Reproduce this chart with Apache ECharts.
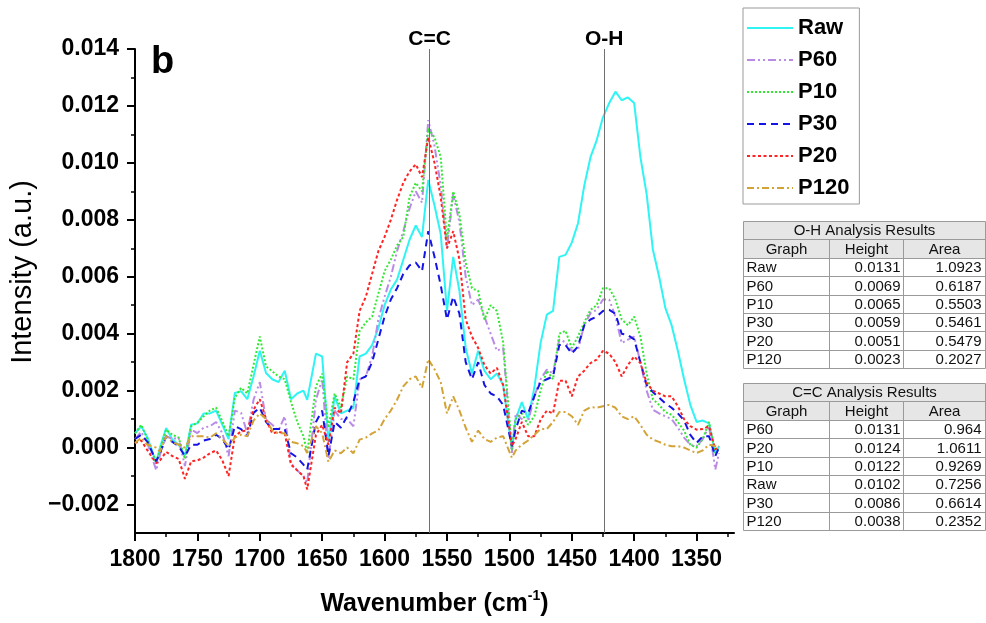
<!DOCTYPE html>
<html><head><meta charset="utf-8">
<script src="https://cdn.jsdelivr.net/npm/echarts@6/dist/echarts.min.js"></script>
<style>html,body{margin:0;padding:0;background:#fff}#c{width:986px;height:623px}</style>
</head><body><div id="c"></div>
<script>
// ---------- data ----------
const wavenumbers = [1800,1795,1790,1783,1780,1775,1770,1765,1760,1755,1750,1745,1740,1735,1730,1725,1720,1715,1710,1705,1700,1695,1690,1685,1680,1675,1670,1665,1662,1655,1650,1645,1640,1635,1630,1625,1620,1615,1610,1605,1600,1595,1590,1585,1580,1575,1570,1565,1560,1555,1550,1545,1540,1535,1530,1525,1520,1515,1510,1505,1498,1495,1490,1485,1480,1475,1470,1465,1460,1455,1450,1445,1440,1435,1430,1425,1420,1415,1410,1405,1400,1395,1390,1385,1380,1375,1370,1365,1360,1355,1350,1345,1340,1335,1332];

const raw = [0.00050,0.00075,0.00035,-0.00054,0.00000,0.00069,0.00028,0.00010,-0.00028,0.00080,
0.00085,0.00120,0.00120,0.00130,0.00080,0.00030,0.00192,0.00198,0.00170,0.00250,
0.00340,0.00262,0.00240,0.00230,0.00270,0.00170,0.00190,0.00200,0.00168,0.00330,
0.00320,0.00020,0.00180,0.00120,0.00130,0.00140,0.00320,0.00330,0.00360,0.00420,
0.00500,0.00555,0.00590,0.00660,0.00730,0.00780,0.00740,0.00940,0.00850,0.00750,
0.00480,0.00670,0.00550,0.00350,0.00260,0.00340,0.00270,0.00240,0.00260,0.00220,
-0.00007,0.00100,0.00160,0.00100,0.00210,0.00367,0.00467,0.00480,0.00670,0.00677,
0.00720,0.00788,0.00920,0.01020,0.01080,0.01160,0.01210,0.01250,0.01220,0.01230,
0.01210,0.01020,0.00890,0.00695,0.00600,0.00490,0.00430,0.00340,0.00240,0.00150,
0.00090,0.00095,0.00085,-0.00019,0.00005];

const p60 = [0.00030,0.00055,0.00015,-0.00080,-0.00025,0.00040,0.00030,0.00035,-0.00065,0.00063,
0.00051,0.00070,0.00075,0.00090,0.00050,-0.00030,0.00130,0.00122,0.00050,0.00168,
0.00230,0.00098,0.00080,0.00060,0.00110,-0.00055,-0.00080,-0.00100,-0.00124,0.00168,
0.00240,-0.00040,0.00130,0.00100,0.00100,0.00075,0.00239,0.00250,0.00320,0.00450,
0.00530,0.00600,0.00690,0.00760,0.00840,0.00900,0.00860,0.01150,0.01060,0.00920,
0.00700,0.00890,0.00790,0.00600,0.00500,0.00520,0.00460,0.00400,0.00340,0.00350,
-0.00019,0.00120,0.00100,0.00090,0.00180,0.00240,0.00274,0.00260,0.00380,0.00370,
0.00340,0.00344,0.00430,0.00472,0.00484,0.00520,0.00520,0.00460,0.00367,0.00379,
0.00390,0.00300,0.00200,0.00133,0.00120,0.00110,0.00100,0.00070,0.00035,0.00010,
0.00005,0.00030,0.00075,-0.00077,-0.00020];

const p10 = [0.00050,0.00080,0.00030,-0.00054,-0.00007,0.00063,0.00045,0.00035,-0.00040,0.00075,
0.00087,0.00110,0.00130,0.00140,0.00092,0.00040,0.00175,0.00210,0.00190,0.00290,
0.00390,0.00285,0.00268,0.00250,0.00240,0.00160,0.00090,0.00040,-0.00019,0.00215,
0.00260,0.00070,0.00190,0.00140,0.00250,0.00240,0.00410,0.00440,0.00460,0.00540,
0.00620,0.00660,0.00710,0.00740,0.00880,0.00930,0.00900,0.01120,0.01090,0.01020,
0.00730,0.00900,0.00820,0.00650,0.00560,0.00550,0.00450,0.00500,0.00480,0.00370,
-0.00007,0.00100,0.00120,0.00080,0.00110,0.00200,0.00270,0.00240,0.00400,0.00410,
0.00350,0.00390,0.00440,0.00484,0.00500,0.00560,0.00560,0.00520,0.00450,0.00430,
0.00460,0.00390,0.00260,0.00170,0.00150,0.00125,0.00115,0.00090,0.00060,0.00010,
0.00000,0.00030,0.00090,-0.00019,0.00000];

const p30 = [0.00030,0.00045,0.00020,-0.00048,-0.00020,0.00040,0.00020,0.00005,-0.00030,0.00010,
0.00010,0.00025,0.00030,0.00045,0.00030,-0.00007,0.00075,0.00065,0.00040,0.00122,
0.00140,0.00090,0.00065,0.00065,0.00065,-0.00020,-0.00035,-0.00060,-0.00077,0.00090,
0.00130,-0.00030,0.00090,0.00070,0.00110,0.00160,0.00240,0.00250,0.00300,0.00380,
0.00460,0.00520,0.00560,0.00610,0.00640,0.00650,0.00620,0.00760,0.00670,0.00570,
0.00450,0.00530,0.00470,0.00300,0.00240,0.00300,0.00220,0.00190,0.00180,0.00150,
0.00005,0.00063,0.00130,0.00120,0.00180,0.00230,0.00240,0.00250,0.00360,0.00360,
0.00330,0.00356,0.00430,0.00450,0.00460,0.00480,0.00484,0.00470,0.00400,0.00395,
0.00380,0.00300,0.00220,0.00195,0.00175,0.00155,0.00140,0.00120,0.00095,0.00045,
0.00016,0.00040,0.00040,-0.00030,0.00000];

const p20 = [0.00016,0.00025,-0.00010,-0.00055,-0.00045,-0.00015,-0.00030,-0.00040,-0.00110,-0.00048,
-0.00045,-0.00035,-0.00020,-0.00010,-0.00045,-0.00100,0.00040,0.00057,0.00060,0.00133,
0.00170,0.00100,0.00050,0.00055,0.00050,-0.00060,-0.00080,-0.00100,-0.00147,0.00045,
0.00080,0.00010,0.00140,0.00120,0.00300,0.00330,0.00480,0.00530,0.00610,0.00690,
0.00740,0.00800,0.00870,0.00930,0.00970,0.00995,0.00950,0.01090,0.01000,0.00880,
0.00700,0.00760,0.00660,0.00450,0.00390,0.00350,0.00290,0.00260,0.00280,0.00220,
0.00005,0.00030,0.00090,0.00040,0.00040,0.00098,0.00130,0.00120,0.00235,0.00235,
0.00180,0.00250,0.00270,0.00297,0.00309,0.00340,0.00330,0.00300,0.00250,0.00290,
0.00320,0.00297,0.00227,0.00200,0.00190,0.00180,0.00180,0.00145,0.00100,0.00075,
0.00063,0.00065,0.00075,-0.00007,0.00005];

const p120 = [0.00016,0.00035,0.00010,0.00000,-0.00015,0.00040,0.00020,0.00010,0.00000,0.00040,
0.00040,0.00040,0.00035,0.00050,0.00030,0.00005,0.00035,0.00045,0.00040,0.00095,
0.00120,0.00100,0.00060,0.00050,0.00050,0.00020,0.00015,0.00005,-0.00019,0.00075,
0.00050,-0.00050,-0.00010,-0.00020,0.00000,-0.00020,0.00028,0.00035,0.00050,0.00060,
0.00100,0.00130,0.00168,0.00215,0.00240,0.00250,0.00210,0.00310,0.00275,0.00230,
0.00120,0.00180,0.00130,0.00070,0.00020,0.00060,0.00030,0.00020,0.00035,0.00040,
-0.00036,-0.00010,0.00010,0.00025,0.00045,0.00065,0.00065,0.00090,0.00125,0.00125,
0.00110,0.00080,0.00130,0.00142,0.00140,0.00145,0.00150,0.00140,0.00110,0.00100,
0.00110,0.00080,0.00045,0.00028,0.00020,0.00010,0.00005,0.00005,0.00000,-0.00010,
-0.00019,-0.00010,0.00010,0.00005,0.00000];

const seriesNames = ['Raw','P60','P10','P30','P20','P120'];
const xTicks = [1800,1750,1700,1650,1600,1550,1500,1450,1400,1350];
const yTicks = [-0.002,0.000,0.002,0.004,0.006,0.008,0.010,0.012,0.014];
const markers = [{name:'C=C', at:1564},{name:'O-H', at:1424}];

const tableHeader = ['Graph','Height','Area'];
const ohTitle = 'O-H Analysis Results';
const ohGraph = ['Raw','P60','P10','P30','P20','P120'];
const ohHeight = ['0.0131','0.0069','0.0065','0.0059','0.0051','0.0023'];
const ohArea = ['1.0923','0.6187','0.5503','0.5461','0.5479','0.2027'];
const ccTitle = 'C=C Analysis Results';
const ccGraph = ['P60','P20','P10','Raw','P30','P120'];
const ccHeight = ['0.0131','0.0124','0.0122','0.0102','0.0086','0.0038'];
const ccArea = ['0.964','1.0611','0.9269','0.7256','0.6614','0.2352'];

// ---------- styles ----------
const FONT = 'Liberation Sans, Arial, sans-serif';
const styles = {
  Raw:  {color:'#2EF4F4', type:'solid', width:2},
  P60:  {color:'#B98AE6', type:[8,3,2,3,2,3], width:2},
  P10:  {color:'#33E833', type:[2,2], width:2},
  P30:  {color:'#1414E6', type:[7,5], width:2},
  P20:  {color:'#FF2424', type:[3,2.5], width:2},
  P120: {color:'#D4A336', type:[7,3,2,3], width:2}
};
const values = {Raw:raw, P60:p60, P10:p10, P30:p30, P20:p20, P120:p120};

const series = seriesNames.map((n, k) => {
  const s = {
    name: n, type: 'line', symbol: 'none', animation: false,
    data: wavenumbers.map((w, i) => [w, values[n][i]]),
    lineStyle: {color: styles[n].color, width: styles[n].width, type: styles[n].type},
    itemStyle: {color: styles[n].color},
    z: 2
  };
  if (k === 0) {
    s.markLine = {
      silent: true, symbol: ['none','none'], animation: false,
      lineStyle: {color:'#707070', width:1, type:'solid'},
      label: {show:true, position:'end', distance:-1, color:'#000',
              fontFamily:FONT, fontWeight:'bold', fontSize:21},
      data: markers.map(m => ({xAxis: m.at, label:{formatter: m.name}}))
    };
  }
  return s;
});

// ---------- tables (graphic) ----------
function buildTable(top, title, graphs, heights, areas) {
  const cols = [743.5, 829.5, 903.5, 985.5];
  const rh = 18.4;
  const rows = 2 + graphs.length;
  const els = [];
  const yAt = r => Math.round(top + r * rh) + 0.5;
  els.push({type:'rect', shape:{x:cols[0], y:yAt(0), width:cols[3]-cols[0], height:yAt(2)-yAt(0)},
            style:{fill:'#E6E6E6'}, silent:true});
  for (let r = 0; r <= rows; r++) {
    els.push({type:'line', shape:{x1:cols[0], y1:yAt(r), x2:cols[3], y2:yAt(r)},
              style:{stroke:'#9A9A9A', lineWidth:1}, silent:true});
  }
  els.push({type:'line', shape:{x1:cols[0], y1:yAt(0), x2:cols[0], y2:yAt(rows)}, style:{stroke:'#9A9A9A', lineWidth:1}, silent:true});
  els.push({type:'line', shape:{x1:cols[3], y1:yAt(0), x2:cols[3], y2:yAt(rows)}, style:{stroke:'#9A9A9A', lineWidth:1}, silent:true});
  els.push({type:'line', shape:{x1:cols[1], y1:yAt(1), x2:cols[1], y2:yAt(rows)}, style:{stroke:'#9A9A9A', lineWidth:1}, silent:true});
  els.push({type:'line', shape:{x1:cols[2], y1:yAt(1), x2:cols[2], y2:yAt(rows)}, style:{stroke:'#9A9A9A', lineWidth:1}, silent:true});
  const txt = (text, x, y, align) => ({type:'text', silent:true,
      style:{text, x, y, align, verticalAlign:'middle', fill:'#111', font:'15px ' + FONT}});
  const mid = r => (yAt(r) + yAt(r+1)) / 2 + 0.5;
  els.push(txt(title, (cols[0]+cols[3])/2, mid(0), 'center'));
  tableHeader.forEach((h, c) => els.push(txt(h, (cols[c]+cols[c+1])/2, mid(1), 'center')));
  graphs.forEach((g, i) => {
    els.push(txt(g, cols[0] + 3, mid(2+i), 'left'));
    els.push(txt(heights[i], cols[2] - 3, mid(2+i), 'right'));
    els.push(txt(areas[i], cols[3] - 4, mid(2+i), 'right'));
  });
  return els;
}

const graphics = [
  {type:'text', silent:true, style:{text:'b', x:151, y:63, align:'left', verticalAlign:'middle',
    fill:'#000', font:'bold 38px ' + FONT}}
].concat(buildTable(221, ohTitle, ohGraph, ohHeight, ohArea))
 .concat(buildTable(383, ccTitle, ccGraph, ccHeight, ccArea));

const axisLine = {show:true, onZero:false, lineStyle:{color:'#000', width:2}};

const option = {
  backgroundColor: '#fff',
  animation: false,
  grid: {left:135, top:49, width:599, height:484, containLabel:false, outerBoundsMode:'none'},
  legend: {
    show: true, orient:'vertical', left:743, top:8,
    data: seriesNames,
    itemWidth: 46, itemHeight: 14, itemGap: 8,
    padding: [8, 10, 4, 3],
    borderColor:'#9A9A9A', borderWidth:1, backgroundColor:'#fff',
    itemStyle: {opacity: 0},
    textStyle: {fontFamily:FONT, fontWeight:'bold', fontSize:22, color:'#000', lineHeight:24},
    selectedMode: false
  },
  xAxis: {
    type:'value', inverse:true, min:1320, max:1800, splitNumber:10,
    axisLine: axisLine,
    axisTick: {show:true, inside:false, length:8, lineStyle:{color:'#000', width:2}, customValues: xTicks},
    minorTick: {show:true, splitNumber:2, length:4, lineStyle:{color:'#000', width:1.5}},
    axisLabel: {show:true, margin:15, fontFamily:FONT, fontWeight:'bold', fontSize:23, color:'#000',
                customValues: xTicks, formatter: v => String(v)},
    splitLine: {show:false}, minorSplitLine:{show:false},
    name: '{a|Wavenumber (cm}{s|-1}{a|)}', nameLocation:'middle', nameGap:56,
    nameTextStyle: {rich:{
      a:{fontFamily:FONT, fontWeight:'bold', fontSize:25, color:'#000', lineHeight:30},
      s:{fontFamily:FONT, fontWeight:'bold', fontSize:14, color:'#000', lineHeight:30, verticalAlign:'top'}
    }}
  },
  yAxis: {
    type:'value', min:-0.003, max:0.014, splitNumber:8,
    axisLine: axisLine,
    axisTick: {show:true, inside:false, length:8, lineStyle:{color:'#000', width:2}, customValues: yTicks},
    minorTick: {show:true, splitNumber:2, length:4, lineStyle:{color:'#000', width:1.5}},
    axisLabel: {show:true, margin:16, fontFamily:FONT, fontWeight:'bold', fontSize:23, color:'#000',
                customValues: yTicks,
                formatter: v => v.toFixed(3).replace('-', '\u2212')},
    splitLine: {show:false}, minorSplitLine:{show:false},
    name: 'Intensity (a.u.)', nameLocation:'middle', nameGap:96, nameRotate:90,
    nameTextStyle: {fontFamily:FONT, fontSize:29, color:'#000', padding:[0,0,0,38]}
  },
  series: series,
  graphic: graphics
};

const chart = echarts.init(document.getElementById('c'), null, {renderer:'canvas'});
chart.setOption(option);
</script>
</body></html>
